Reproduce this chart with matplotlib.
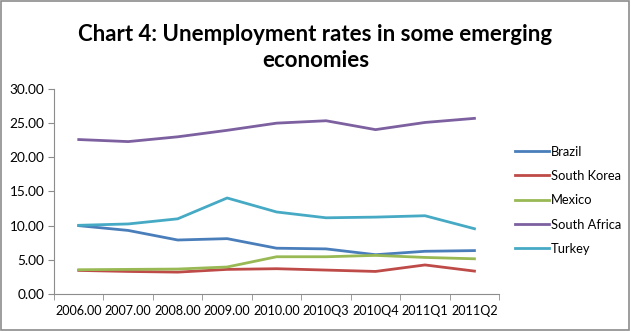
import matplotlib.pyplot as plt
from matplotlib.patches import Rectangle

periods = ['2006.00', '2007.00', '2008.00', '2009.00', '2010.00',
           '2010Q3', '2010Q4', '2011Q1', '2011Q2']

brazil = [10.0, 9.3, 7.9, 8.1, 6.7, 6.6, 5.75, 6.25, 6.35]
south_korea = [3.45, 3.3, 3.2, 3.6, 3.7, 3.5, 3.3, 4.25, 3.35]
mexico = [3.55, 3.6, 3.65, 3.95, 5.45, 5.45, 5.65, 5.35, 5.15]
south_africa = [22.6, 22.3, 23.0, 23.95, 25.0, 25.35, 24.05, 25.1, 25.7]
turkey = [10.05, 10.25, 11.0, 14.05, 12.0, 11.15, 11.25, 11.45, 9.55]

series = [
    ('Brazil', brazil, '#4A7EBB'),
    ('South Korea', south_korea, '#BE4B48'),
    ('Mexico', mexico, '#98B954'),
    ('South Africa', south_africa, '#7D60A0'),
    ('Turkey', turkey, '#46AAC5'),
]

plt.rcParams['font.family'] = ['Lato', 'DejaVu Sans']

fig = plt.figure(figsize=(6.31, 3.31), dpi=100)
fig.patches.append(Rectangle((0.002, 0.003), 0.995, 0.994, transform=fig.transFigure,
                             fill=False, edgecolor='#8c8c8c', linewidth=1.2))

ax = fig.add_axes([0.0856, 0.1118, 0.7055, 0.6194])
x = range(len(periods))
for name, vals, color in series:
    ax.plot(x, vals, color=color, linewidth=2.0, label=name)

ax.set_xlim(-0.5, len(periods) - 0.5)
ax.set_ylim(0, 30)
ax.set_yticks(range(0, 31, 5))
ax.set_yticklabels(['%.2f' % v for v in range(0, 31, 5)])
ax.set_xticks(list(x))
ax.set_xticklabels(periods)
ax.set_xticks([i - 0.5 for i in range(len(periods) + 1)], minor=True)
ax.tick_params(axis='x', which='major', length=0, pad=8, labelsize=9.1, colors='black')
ax.tick_params(axis='x', which='minor', length=4, color='#8c8c8c')
ax.tick_params(axis='y', length=4, color='#8c8c8c', labelsize=9.8, pad=3)

for side in ['top', 'right']:
    ax.spines[side].set_visible(False)
for side in ['left', 'bottom']:
    ax.spines[side].set_color('#8c8c8c')

fig.text(0.5, 0.857, 'Chart 4: Unemployment rates in some emerging\neconomies',
         ha='center', va='center', fontsize=16, fontweight='bold', linespacing=1.3)

ax.legend(loc='center left', bbox_to_anchor=(0.797, 0.395), bbox_transform=fig.transFigure,
          frameon=False, fontsize=9.3, handlelength=2.7, handletextpad=0.1,
          labelspacing=0.95)

fig.savefig('out.png', dpi=100)
